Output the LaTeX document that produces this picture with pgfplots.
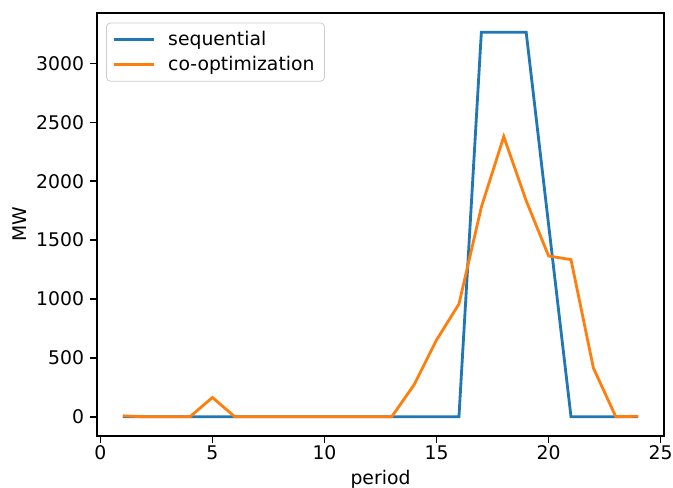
\documentclass[border=0pt]{standalone}
\usepackage{fontspec}
\setmainfont{DejaVu Sans}
\usepackage{pgfplots}
\pgfplotsset{compat=1.18}
\usetikzlibrary{calc}

\definecolor{mplblue}{HTML}{1F77B4}
\definecolor{mplorange}{HTML}{FF7F0E}

\pgfplotstableread{
period seq coopt
1  0    8
2  0    0
3  0    0
4  0    0
5  0    164
6  0    0
7  0    0
8  0    0
9  0    0
10 0    0
11 0    0
12 0    0
13 0    0
14 0    272
15 0    652
16 0    957
17 3265 1780
18 3265 2379
19 3265 1835
20 1632 1365
21 0    1334
22 0    414
23 0    0
24 0    5
}\mwdata

\begin{document}
\fontsize{9.4}{11}\selectfont
\begin{tikzpicture}
\begin{axis}[
    name=ax,
    scale only axis,
    width=283.5pt, height=211.5pt,
    xmin=-0.15, xmax=25.15,
    ymin=-163.25, ymax=3428.25,
    xtick={0,5,...,25},
    ytick={0,500,...,3000},
    tick align=outside,
    tick pos=left,
    major tick length=3.3pt,
    tick style={black, line width=0.75pt},
    axis line style={line width=0.75pt},
    /pgf/number format/assume math mode=true,
    /pgf/number format/1000 sep={},
    xticklabel style={inner sep=1.5pt},
    yticklabel style={inner sep=3pt},
    xlabel={period},
    ylabel={MW},
    ylabel style={yshift=-1.5pt},
    legend cell align=left,
    legend style={at={(0,1)}, anchor=north west, xshift=4.5pt, yshift=-4.8pt,
        draw=black!20, rounded corners=2pt, fill=white, fill opacity=0.8,
        text opacity=1, inner xsep=3pt, inner ysep=2pt,
        font=\fontsize{9.4}{11}\selectfont},
    legend image code/.code={\draw[#1] (0pt,0pt) -- (20pt,0pt); \path (24.5pt,0pt);},
]
\addplot[mplblue, line width=1.41pt] table[x=period, y=seq] {\mwdata};
\addplot[mplorange, line width=1.41pt] table[x=period, y=coopt] {\mwdata};
\legend{sequential, co-optimization}
\end{axis}
\pgfresetboundingbox
\path[use as bounding box] ($(ax.south west)+(-48.5pt,-25.5pt)$) rectangle ($(ax.north east)+(4.5pt,6.5pt)$);
\end{tikzpicture}
\end{document}
